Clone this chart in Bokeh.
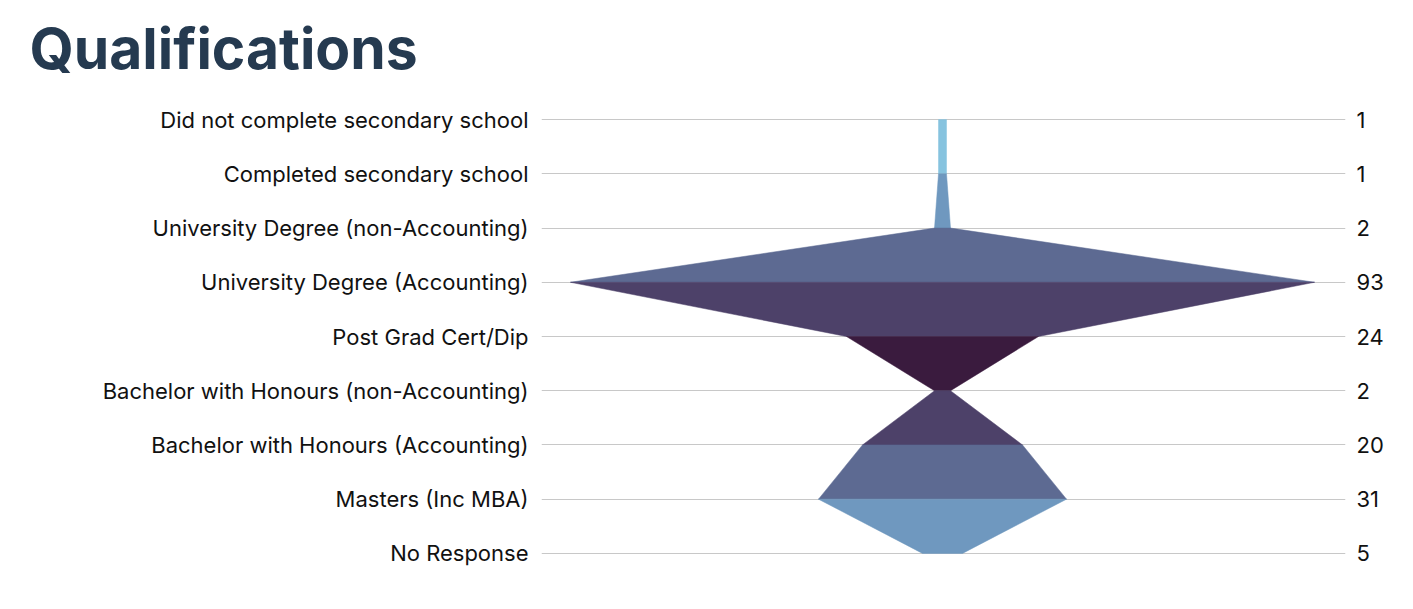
from bokeh.plotting import figure
from bokeh.models import Range1d, LinearAxis, FixedTicker
from bokeh.embed import file_html
from bokeh.resources import INLINE

categories = [
    "Did not complete secondary school",
    "Completed secondary school",
    "University Degree (non-Accounting)",
    "University Degree (Accounting)",
    "Post Grad Cert/Dip",
    "Bachelor with Honours (non-Accounting)",
    "Bachelor with Honours (Accounting)",
    "Masters (Inc MBA)",
    "No Response",
]
values = [1, 1, 2, 93, 24, 2, 20, 31, 5]
band_colors = ["#86c3df", "#6f98bf", "#5d6a92", "#4d4169", "#3a1b3e",
               "#4d4169", "#5d6a92", "#6f98bf"]

n = len(categories)
xs, ys = [], []
for i in range(n - 1):
    a, b = values[i], values[i + 1]
    xs.append([-a, a, b, -b])
    ys.append([i, i, i + 1, i + 1])

p = figure(width=1397, height=593, output_backend="svg", toolbar_location=None,
           x_range=Range1d(-100.25, 100.75), y_range=Range1d(n - 1 + 0.5, -0.5),
           min_border_left=541, min_border_right=52, min_border_top=92,
           min_border_bottom=13, outline_line_color=None)

p.title.text = "Qualifications"
p.title.text_font = "Inter"
p.title.text_font_size = "57px"
p.title.text_font_style = "bold"
p.title.text_color = "#253a50"
p.title.align = "left"
p.title.offset = -512
p.title.standoff = 19

p.patches(xs, ys, fill_color=band_colors, line_color=band_colors, line_width=0.5)

p.xaxis.visible = False
p.xgrid.visible = False
p.ygrid.ticker = FixedTicker(ticks=list(range(n)))
p.ygrid.grid_line_color = "#c8c8c8"
p.ygrid.grid_line_width = 1

p.yaxis.ticker = FixedTicker(ticks=list(range(n)))
p.yaxis.major_label_overrides = {i: c for i, c in enumerate(categories)}

right = LinearAxis(ticker=FixedTicker(ticks=list(range(n))),
                   major_label_overrides={i: str(v) for i, v in enumerate(values)})
p.add_layout(right, "right")

for ax in [p.yaxis[0], right]:
    ax.axis_line_color = None
    ax.major_tick_line_color = None
    ax.minor_tick_line_color = None
    ax.major_label_text_font = "Inter"
    ax.major_label_text_font_size = "22px"
    ax.major_label_text_color = "#111111"
p.yaxis[0].major_label_standoff = 7
right.major_label_standoff = 5

open("out.html", "w").write(file_html(p, INLINE))
